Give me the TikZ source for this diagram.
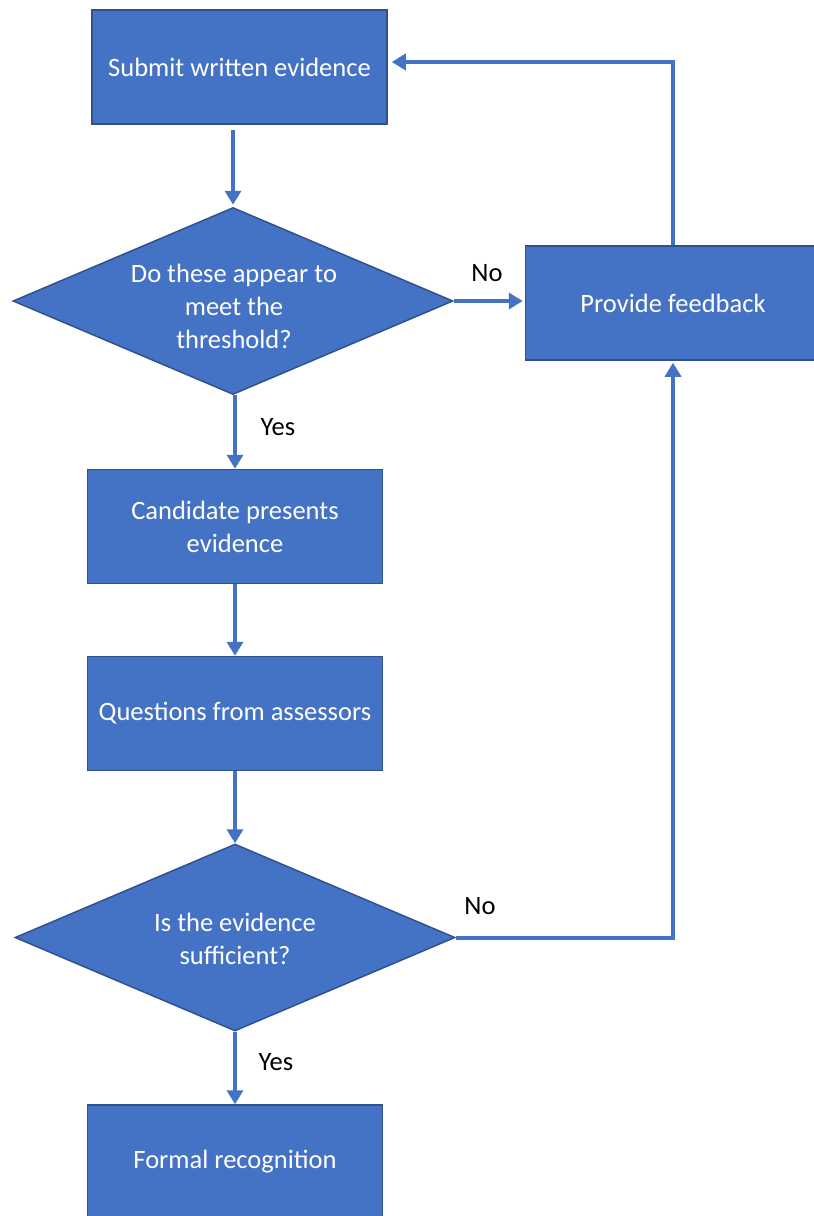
\documentclass[tikz,border=0pt]{standalone}
\usepackage{fontspec}
\setmainfont{Carlito}
\usetikzlibrary{shapes.geometric,arrows.meta,calc}
\definecolor{fillblue}{HTML}{4472C4}
\definecolor{edgeblue}{HTML}{2F528F}
\begin{document}
\begin{tikzpicture}[x=1pt,y=-1pt,
  txt/.style={font=\fontsize{26.5}{33}\selectfont},
  box/.style={txt,rectangle,draw=edgeblue,line width=1.5pt,fill=fillblue,text=white,
    minimum width=295pt,minimum height=114pt,inner sep=0pt,align=center},
  dec/.style={diamond,draw=edgeblue,line width=1.5pt,fill=fillblue,
    minimum width=440pt,minimum height=187pt,inner sep=0pt},
  dectext/.style={txt,text=white,align=center,inner sep=0pt},
  conn/.style={draw=fillblue,line width=4pt,-{Triangle[length=14pt,width=16pt]}},
  lbl/.style={txt,text=black}]
\useasboundingbox (0,0) rectangle (814,1216);
\node[box] (submit) at (239.5,67) {Submit written evidence};
\node[dec] (d1) at (233,301) {};
\node[dectext] (d1t) at (234,306) {Do these appear to\\meet the\\threshold?};
\node[box] (fb) at (673,303) {Provide feedback};
\node[box] (cand) at (235,526.5) {Candidate presents\\evidence};
\node[box] (quest) at (235,713.5) {Questions from assessors};
\node[dec] (d2) at (235,937.5) {};
\node[dectext] (d2t) at (235,938.5) {Is the evidence\\sufficient?};
\node[box] (formal) at (235,1162) {Formal recognition};
\draw[conn,shorten <=5pt,shorten >=2pt] (d1.north |- submit.south) -- (d1.north);
\draw[conn] (cand.north |- d1.south) -- (cand.north);
\draw[conn,shorten >=2pt] (d1.east) -- (d1.east -| fb.west);
\draw[conn,shorten >=4pt] (fb.north) |- ([yshift=5pt]submit.east);
\draw[conn] (cand.south) -- (quest.north);
\draw[conn] (quest.south) -- (d2.north);
\draw[conn,shorten >=2pt] (d2.east) -| (fb.south);
\draw[conn] (d2.south) -- (formal.north);
\node[lbl] (no1) at (487,273) {No};
\node[lbl] (yes1) at (278,427) {Yes};
\node[lbl] (no2) at (480,906) {No};
\node[lbl] (yes2) at (276,1062) {Yes};
\end{tikzpicture}
\end{document}
